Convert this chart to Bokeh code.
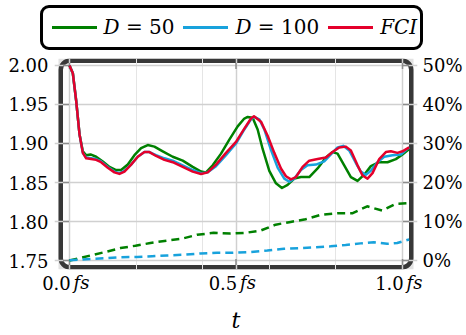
from bokeh.plotting import figure
from bokeh.models import (Range1d, LinearAxis, FixedTicker, BoxAnnotation, Grid,
                          CustomJSTickFormatter, Div)
from bokeh.layouts import column
from bokeh.embed import file_html
from bokeh.resources import INLINE

# ---------------- data ----------------
t_d50 = [0.000, 0.010, 0.020, 0.030, 0.040, 0.050, 0.063, 0.080, 0.100, 0.120, 0.140, 0.155, 0.175,
         0.195, 0.215, 0.235, 0.255, 0.280, 0.310, 0.340, 0.370, 0.395, 0.410, 0.430, 0.455, 0.480,
         0.505, 0.525, 0.535, 0.550, 0.565, 0.580, 0.600, 0.620, 0.638, 0.655, 0.675, 0.695, 0.720,
         0.745, 0.770, 0.790, 0.805, 0.825, 0.845, 0.865, 0.885, 0.905, 0.930, 0.955, 0.980, 1.000, 1.020]
e_d50 = [2.000, 1.990, 1.955, 1.912, 1.890, 1.885, 1.886, 1.883, 1.877, 1.870, 1.866, 1.866, 1.873,
         1.885, 1.894, 1.898, 1.896, 1.890, 1.883, 1.878, 1.870, 1.864, 1.863, 1.872, 1.887, 1.905,
         1.922, 1.932, 1.934, 1.933, 1.918, 1.893, 1.865, 1.849, 1.843, 1.847, 1.855, 1.857, 1.857,
         1.868, 1.882, 1.889, 1.887, 1.872, 1.857, 1.852, 1.860, 1.871, 1.876, 1.876, 1.880, 1.886, 1.893]

t_d100 = [0.000, 0.010, 0.020, 0.030, 0.040, 0.050, 0.065, 0.080, 0.095, 0.115, 0.135, 0.150, 0.165,
          0.185, 0.205, 0.225, 0.240, 0.260, 0.285, 0.310, 0.340, 0.370, 0.395, 0.415, 0.440, 0.470,
          0.500, 0.525, 0.545, 0.555, 0.570, 0.585, 0.605, 0.625, 0.645, 0.660, 0.675, 0.695, 0.715,
          0.740, 0.765, 0.785, 0.805, 0.822, 0.840, 0.860, 0.875, 0.890, 0.905, 0.925, 0.945, 0.970,
          0.995, 1.020]
e_d100 = [2.000, 1.990, 1.955, 1.912, 1.888, 1.882, 1.881, 1.880, 1.877, 1.870, 1.864, 1.862, 1.865,
          1.873, 1.883, 1.889, 1.889, 1.885, 1.881, 1.878, 1.872, 1.866, 1.862, 1.863, 1.871, 1.885,
          1.900, 1.918, 1.931, 1.934, 1.931, 1.918, 1.892, 1.869, 1.855, 1.851, 1.855, 1.866, 1.872,
          1.873, 1.877, 1.886, 1.895, 1.897, 1.891, 1.875, 1.864, 1.860, 1.865, 1.876, 1.883, 1.885,
          1.886, 1.895]

t_fci = [0.000, 0.010, 0.020, 0.030, 0.040, 0.050, 0.065, 0.080, 0.095, 0.115, 0.135, 0.150, 0.165,
         0.185, 0.205, 0.225, 0.240, 0.260, 0.285, 0.310, 0.340, 0.370, 0.395, 0.415, 0.440, 0.470,
         0.500, 0.525, 0.545, 0.554, 0.575, 0.595, 0.615, 0.635, 0.650, 0.665, 0.680, 0.700, 0.720,
         0.745, 0.770, 0.790, 0.810, 0.830, 0.845, 0.865, 0.880, 0.895, 0.910, 0.930, 0.950, 0.965,
         0.985, 1.000, 1.020]
e_fci = [2.000, 1.990, 1.955, 1.912, 1.888, 1.881, 1.880, 1.879, 1.876, 1.869, 1.863, 1.861, 1.864,
         1.873, 1.883, 1.889, 1.889, 1.884, 1.879, 1.876, 1.870, 1.864, 1.861, 1.863, 1.873, 1.888,
         1.902, 1.919, 1.932, 1.935, 1.928, 1.910, 1.888, 1.868, 1.858, 1.854, 1.857, 1.870, 1.878,
         1.880, 1.882, 1.889, 1.895, 1.896, 1.891, 1.872, 1.859, 1.855, 1.862, 1.880, 1.889, 1.890,
         1.888, 1.890, 1.895]

t_pct50 = [0.000, 0.063, 0.103, 0.153, 0.198, 0.243, 0.293, 0.338, 0.383, 0.433, 0.483, 0.529,
           0.574, 0.619, 0.664, 0.709, 0.754, 0.804, 0.849, 0.894, 0.939, 0.979, 1.020]
pct50 = [0.0, 1.3, 2.1, 3.2, 3.8, 4.5, 5.1, 5.6, 6.6, 7.1, 6.9, 7.1,
         7.7, 9.2, 9.9, 10.6, 11.7, 12.1, 12.1, 13.9, 12.8, 14.5, 14.7]

t_pct100 = [0.000, 0.063, 0.108, 0.153, 0.203, 0.248, 0.293, 0.348, 0.393, 0.443, 0.488, 0.544,
            0.594, 0.644, 0.694, 0.739, 0.784, 0.829, 0.874, 0.914, 0.954, 0.984, 1.020]
pct100 = [0.1, 0.4, 0.6, 0.85, 0.9, 1.1, 1.3, 1.5, 1.8, 2.0, 2.0, 2.2,
          2.55, 3.0, 3.2, 3.4, 3.65, 4.0, 4.4, 4.7, 4.3, 4.5, 5.4]

x_ticks = [0.0, 0.5, 1.0]
x_tick_labels = ["0.0", "0.5", "1.0"]
x_unit = "fs"
x_title = "t"
y_ticks = [1.75, 1.80, 1.85, 1.90, 1.95, 2.00]
pct_ticks = [0, 10, 20, 30, 40, 50]
pct_tick_labels = ["0%", "10%", "20%", "30%", "40%", "50%"]
series_names = ["D = 50", "D = 100", "FCI"]

GREEN = "#008000"
BLUE = "#18a2dc"
RED = "#e4002b"
COLORS = [GREEN, BLUE, RED]
FONT = "DejaVu Serif"

# ---------------- legend (HTML strip above the plot) ----------------
W = 466
LEG_H = 52
parts = []
for i, (name, col) in enumerate(zip(series_names, COLORS)):
    if name.startswith("D "):
        label = "<i>D</i>" + name[1:]
    else:
        label = "<i>" + name + "</i>"
    parts.append('<span style="display:inline-block;width:45px;height:2.5px;background:%s;'
                 'margin-left:%dpx"></span>' % (col, 0 if i == 0 else 9))
    parts.append('<span style="margin-left:7px">%s</span>' % label)
legend_html = (
    '<div style="padding:5px 0 0 40px;">'
    '<div style="width:383px;height:45px;box-sizing:border-box;border:3px solid #000;'
    'border-radius:9px;display:flex;align-items:center;padding-left:8.5px;'
    "font-family:'DejaVu Serif',serif;font-size:20px;color:#000;white-space:nowrap;"
    'background:#fff;">' + "".join(parts) + '</div></div>')
leg = Div(text=legend_html, width=W, height=LEG_H, margin=(0, 0, 0, 0))

# ---------------- main plot geometry ----------------
H = 335 - LEG_H
BL, BR, BT, BB = 54, 49, 6, 65           # borders around the frame
FW, FH = W - BL - BR, H - BT - BB        # frame size in px
PADX = 4                                 # frame extends 4 px beyond the box left/right
SX = 333.0                               # px per unit of t
SY = 784.0                               # px per unit of energy
X0 = -(69 - BL) / SX                     # t = 0 sits at x = 69
X1 = X0 + FW / SX
Y1 = 2.0 + (65 - LEG_H - BT) / SY        # 2.00 sits at y = 65
Y0 = Y1 - FH / SY
P0, P1 = (Y0 - 1.75) * 200, (Y1 - 1.75) * 200
BX0, BX1 = X0 + PADX / SX, X1 - PADX / SX   # box outer edges (x)
BW = 4.5                                 # frame border width
INSET = BW / 2
NUM_SHIFT = 13.0 / SX                    # number part centred left of tick
UNIT_SHIFT = 12.0 / SX                   # unit part centred right of tick

p = figure(width=W, height=H, output_backend="svg", toolbar_location=None,
           x_range=Range1d(X0, X1), y_range=Range1d(Y0, Y1), x_axis_location=None,
           min_border_left=BL, min_border_right=BR, min_border_top=BT, min_border_bottom=BB)
p.extra_y_ranges = {"pct": Range1d(P0, P1)}
p.extra_x_ranges = {"num": Range1d(X0 + NUM_SHIFT, X1 + NUM_SHIFT),
                    "unit": Range1d(X0 - UNIT_SHIFT, X1 - UNIT_SHIFT)}
p.outline_line_color = None
p.background_fill_color = "white"
p.border_fill_color = "white"

# light grey square behind the rounded white panel (visible only at its corners)
p.add_layout(BoxAnnotation(left=BX0, right=BX1, bottom=Y0, top=Y1,
                           fill_color="#e2e2e2", fill_alpha=1, line_color=None, level="image"))
p.add_layout(BoxAnnotation(left=BX0 + INSET / SX, right=BX1 - INSET / SX,
                           bottom=Y0 + INSET / SY, top=Y1 - INSET / SY,
                           fill_color="white", fill_alpha=1, line_color="#383838",
                           line_alpha=1, line_width=BW, border_radius=9, level="image"))

# grids stop at the inner edge of the border
p.add_layout(Grid(dimension=0, ticker=FixedTicker(ticks=x_ticks),
                  bounds=(Y0 + BW / SY, Y1 - BW / SY),
                  grid_line_color="#d0d0d0", grid_line_width=1.5))
p.ygrid.grid_line_color = "#d0d0d0"
p.ygrid.grid_line_width = 1.5
p.ygrid.bounds = (BX0 + BW / SX, BX1 - BW / SX)

# y axes
p.yaxis[0].ticker = FixedTicker(ticks=y_ticks)
p.yaxis[0].formatter = CustomJSTickFormatter(code="return tick.toFixed(2)")
right = LinearAxis(y_range_name="pct", ticker=FixedTicker(ticks=pct_ticks),
                   major_label_overrides={k: v for k, v in zip(pct_ticks, pct_tick_labels)})
p.add_layout(right, "right")

# x axis labels: number part (upright) and unit part (italic, pulled up onto
# the same line; it carries the axis title)
ax_num = LinearAxis(x_range_name="num", ticker=FixedTicker(ticks=x_ticks),
                    major_label_overrides={k: v for k, v in zip(x_ticks, x_tick_labels)})
ax_unit = LinearAxis(x_range_name="unit", ticker=FixedTicker(ticks=x_ticks),
                     major_label_overrides={k: x_unit for k in x_ticks},
                     axis_label=x_title)
p.add_layout(ax_num, "below")
p.add_layout(ax_unit, "below")

for ax in [p.yaxis[0], right, ax_num, ax_unit]:
    ax.axis_line_color = None
    ax.major_tick_in = 0
    ax.major_tick_out = 0
    ax.minor_tick_line_color = None
    ax.major_tick_line_color = None
    ax.major_label_text_font = FONT
    ax.major_label_text_font_size = "18px"
    ax.major_label_text_color = "black"
p.yaxis[0].major_label_standoff = 6
right.major_label_standoff = 5
ax_num.major_label_standoff = 6
ax_unit.major_label_standoff = -21
ax_unit.major_label_text_font_style = "italic"
ax_unit.axis_label_text_font = FONT
ax_unit.axis_label_text_font_size = "22px"
ax_unit.axis_label_text_font_style = "italic"
ax_unit.axis_label_text_color = "black"
ax_unit.axis_label_standoff = 12

# small inner tick marks on all four sides, starting at the border's inner edge
TL = 6
ny, nx = len(y_ticks), len(x_ticks)
tk = dict(line_color="#8c8c8c", line_width=1.5)
p.segment([BX0 + BW / SX] * ny, y_ticks, [BX0 + (BW + TL) / SX] * ny, y_ticks, **tk)
p.segment([BX1 - BW / SX] * ny, y_ticks, [BX1 - (BW + TL) / SX] * ny, y_ticks, **tk)
p.segment(x_ticks, [Y0 + BW / SY] * nx, x_ticks, [Y0 + (BW + TL) / SY] * nx, **tk)
p.segment(x_ticks, [Y1 - BW / SY] * nx, x_ticks, [Y1 - (BW + TL) / SY] * nx, **tk)

# dashed percentage series (right axis)
p.line(t_pct50, pct50, y_range_name="pct", color=GREEN, line_width=2.5, line_dash="8 5")
p.line(t_pct100, pct100, y_range_name="pct", color=BLUE, line_width=2.5, line_dash="8 5")

# solid series (left axis)
p.line(t_d50, e_d50, color=GREEN, line_width=2.5, line_join="round")
p.line(t_d100, e_d100, color=BLUE, line_width=2.5, line_join="round")
p.line(t_fci, e_fci, color=RED, line_width=2.5, line_join="round")

layout = column(leg, p, spacing=0)
open("out.html", "w").write(file_html(layout, INLINE))
